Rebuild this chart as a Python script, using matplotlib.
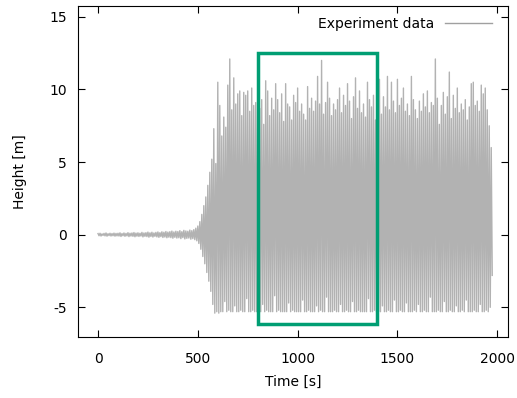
import numpy as np
import matplotlib.pyplot as plt
from matplotlib.patches import Rectangle

plt.rcParams['axes.unicode_minus'] = False

# Wave record: one crest and one trough every 10 s
step = 10.0

crest = [
    # 0 - 490 s : calm
    0.08, 0.10, 0.06, 0.09, 0.12, 0.07, 0.10, 0.08, 0.11, 0.09,
    0.10, 0.13, 0.08, 0.12, 0.09, 0.14, 0.10, 0.12, 0.15, 0.11,
    0.13, 0.10, 0.16, 0.12, 0.14, 0.18, 0.13, 0.17, 0.12, 0.16,
    0.19, 0.14, 0.20, 0.17, 0.22, 0.18, 0.21, 0.25, 0.19, 0.24,
    0.22, 0.28, 0.21, 0.30, 0.26, 0.24, 0.32, 0.28, 0.35, 0.45,
    # 500 - 590 s : growth
    0.6, 0.9, 1.4, 2.0, 2.6, 3.4, 4.3, 5.2, 7.3, 4.9,
    # 600 - 1970 s
    10.5, 8.9, 6.8, 8.1, 7.4, 10.3, 12.1, 8.6, 10.8, 9.0,
    9.7, 9.9, 8.2, 9.8, 9.6, 9.9, 8.5, 10.1, 8.9, 9.1,
    8.9, 8.7, 9.3, 7.6, 10.6, 9.9, 8.2, 9.4, 8.6, 10.4,
    9.3, 8.4, 9.7, 7.8, 10.4, 9.0, 8.8, 7.9, 9.6, 9.1,
    10.1, 8.5, 9.0, 8.3, 7.9, 10.2, 8.7, 9.4, 8.5, 9.2,
    10.9, 9.0, 12.0, 8.3, 9.1, 10.5, 9.4, 8.2, 9.0, 8.6,
    9.3, 10.1, 8.4, 9.6, 8.9, 10.4, 9.2, 8.0, 9.5, 10.8,
    8.7, 9.9, 8.4, 9.0, 8.1, 10.5, 9.3, 8.8, 9.6, 7.9,
    9.1, 10.7, 8.3, 9.5, 8.8, 10.9, 8.6, 10.5, 9.2, 8.4,
    10.7, 8.9, 9.4, 10.1, 8.5, 9.0, 8.2, 10.9, 9.3, 8.6,
    8.0, 9.2, 8.5, 9.7, 8.8, 9.9, 8.4, 9.1, 8.9, 12.1,
    9.4, 7.6, 8.9, 9.8, 8.3, 9.5, 11.2, 8.0, 9.6, 8.7,
    10.1, 8.4, 9.0, 8.6, 9.3, 7.9, 8.8, 10.4, 10.5, 8.9,
    9.2, 8.5, 10.3, 9.7, 10.1, 8.6, 7.5, 6.0,
]

trough = [
    # 0 - 490 s : calm
    -0.07, -0.09, -0.05, -0.08, -0.10, -0.06, -0.09, -0.07, -0.10, -0.08,
    -0.09, -0.12, -0.07, -0.11, -0.08, -0.13, -0.09, -0.11, -0.14, -0.10,
    -0.12, -0.09, -0.15, -0.11, -0.13, -0.17, -0.12, -0.16, -0.11, -0.15,
    -0.18, -0.13, -0.19, -0.16, -0.21, -0.17, -0.20, -0.24, -0.18, -0.23,
    -0.21, -0.27, -0.20, -0.29, -0.25, -0.23, -0.31, -0.27, -0.34, -0.42,
    # 500 - 590 s : growth
    -0.6, -1.0, -1.5, -2.0, -2.6, -3.2, -3.9, -4.8, -5.4, -5.3,
    # 600 - 1970 s
    -5.4, -5.3, -5.3, -4.6, -5.3, -5.2, -5.3, -5.3, -4.9, -5.3,
    -5.3, -5.2, -5.3, -5.3, -4.4, -5.3, -5.3, -5.2, -5.3, -5.3,
    -5.3, -5.3, -4.8, -5.3, -5.2, -5.3, -5.3, -5.3, -4.2, -5.3,
    -5.2, -5.3, -5.3, -5.3, -5.3, -4.7, -5.3, -5.2, -5.3, -5.3,
    -5.3, -5.3, -4.5, -5.3, -5.3, -5.2, -5.3, -5.3, -5.3, -4.9,
    -5.3, -5.2, -5.3, -5.3, -4.3, -5.3, -5.3, -5.3, -5.2, -5.3,
    -5.3, -4.8, -5.3, -5.3, -5.2, -5.3, -5.3, -4.6, -5.3, -5.3,
    -5.2, -5.3, -5.3, -5.3, -5.3, -4.4, -5.3, -5.3, -5.2, -5.3,
    -5.3, -5.3, -4.9, -5.3, -5.3, -5.2, -5.3, -5.3, -4.5, -5.3,
    -5.3, -5.2, -5.3, -5.3, -4.7, -5.3, -5.3, -5.3, -5.2, -5.3,
    -4.8, -5.3, -5.3, -5.2, -5.3, -5.3, -4.3, -5.3, -5.3, -5.3,
    -5.2, -5.3, -5.3, -4.6, -5.3, -5.3, -5.2, -5.3, -5.3, -4.9,
    -5.3, -5.3, -5.2, -5.3, -4.5, -5.3, -5.3, -5.3, -5.2, -5.3,
    -5.3, -4.8, -5.3, -5.3, -5.2, -5.3, -5.0, -2.8,
]

# highlighted window (s, m)
box_t0, box_t1 = 800, 1400
box_h0, box_h1 = -6.15, 12.5

t = np.arange(len(crest)) * step
time = np.column_stack((t, t + step / 2)).ravel()
height = np.column_stack((crest, trough)).ravel()

fig = plt.figure(figsize=(5.17, 3.98), dpi=100)
ax = fig.add_axes([0.151, 0.153, 0.832, 0.832])

ax.plot(time, height, color='#b2b2b2', lw=1.0, label='Experiment data')
ax.add_patch(Rectangle((box_t0, box_h0), box_t1 - box_t0, box_h1 - box_h0,
                       fill=False, edgecolor='#009e73', lw=2.5, zorder=3))

ax.set_xlim(-100, 2055)
ax.set_ylim(-7.05, 15.75)
ax.set_xticks([0, 500, 1000, 1500, 2000])
ax.set_yticks([-5, 0, 5, 10, 15])
ax.tick_params(direction='in', top=True, right=True, length=5, labelsize=10)
ax.tick_params(axis='x', pad=11)
ax.tick_params(axis='y', pad=8)
ax.set_xlabel('Time [s]', fontsize=10, labelpad=6)
ax.set_ylabel('Height [m]', fontsize=10, labelpad=16)

leg = ax.legend(loc='upper right', bbox_to_anchor=(1.0, 1.016),
                frameon=False, markerfirst=False,
                handlelength=3.4, fontsize=10, borderaxespad=0.75)
leg.get_lines()[0].set_color('#a0a0a0')

fig.savefig('out.png', dpi=100)
